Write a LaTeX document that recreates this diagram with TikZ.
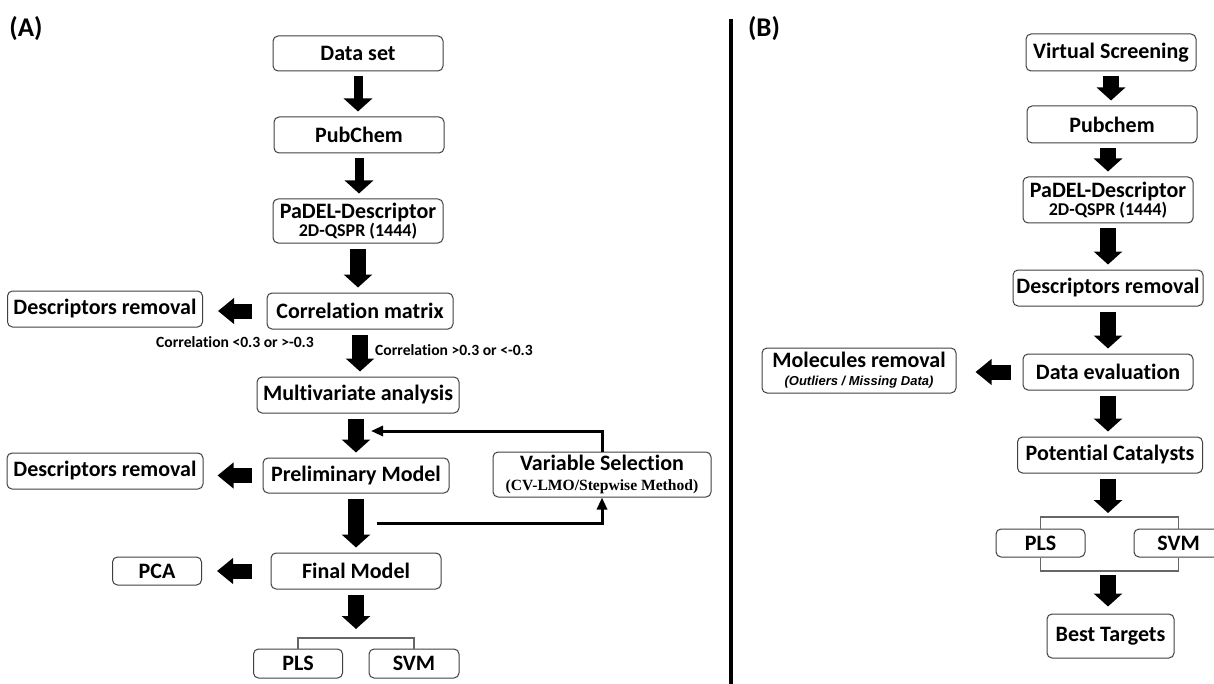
\documentclass[tikz,border=0pt]{standalone}
\usepackage{fontspec}
\setmainfont{Carlito}[Ligatures=NoCommon]
\newfontfamily\serifb{Liberation Serif}
\newfontfamily\sansb{Liberation Sans}
\usetikzlibrary{arrows.meta}

\begin{document}
\begin{tikzpicture}[x=0.5pt, y=-0.5pt, thick,
  box/.style={draw=black!75, line width=0.5pt, rounded corners=2.5pt, fill=white,
    inner sep=0pt, align=center, font=\fontsize{11}{12}\selectfont\bfseries},
  blk/.style={line width=8pt, -{Triangle[length=6.5pt, width=14pt]},
    shorten <=2.5pt, shorten >=2.5pt},
  sideblk/.style={line width=7.5pt, -{Triangle[length=8pt, width=12.5pt]}},
  fb/.style={line width=1.5pt, -{Triangle[length=6pt, width=5pt]}},
  brk/.style={draw=black!60, line width=0.6pt},
  cond/.style={font=\fontsize{7.8}{9}\selectfont\bfseries},
  panel/.style={font=\fontsize{13.5}{15}\selectfont\bfseries}]
  \useasboundingbox (0,0) rectangle (1214,684);
  \clip (0,0) rectangle (1214,684);

  % (A)
  \node[panel] (labA) at (26,29) {(A)};
  \node[box, minimum width=85pt, minimum height=17.5pt] (data) at (358,53.5) {Data set};
  \node[box, minimum width=85pt, minimum height=18pt] (pub) at (359,135) {PubChem};
  \node[box, minimum width=85pt, minimum height=22pt] (padel) at (358,221)
    {PaDEL-Descriptor\\[-3pt]{\fontsize{9}{9}\selectfont 2D-QSPR (1444)}};
  \node[box, minimum width=93pt, minimum height=18pt] (corr) at (360,311) {Correlation matrix};
  \node[box, minimum width=97.5pt, minimum height=18pt] (rem1) at (105,309) {Descriptors removal};
  \node[box, minimum width=101pt, minimum height=18pt] (multi) at (358,395) {Multivariate analysis};
  \node[box, minimum width=93pt, minimum height=17.5pt] (prelim) at (356,475.5) {Preliminary Model};
  \node[box, minimum width=98pt, minimum height=18pt] (rem2) at (105,471) {Descriptors removal};
  \node[box, minimum width=109pt, minimum height=22.5pt] (varsel) at (602,474.5)
    {Variable Selection\\[-2pt]{\serifb\bfseries\fontsize{7.8}{9}\selectfont (CV-LMO/Stepwise Method)}};
  \node[box, minimum width=85pt, minimum height=18pt] (final) at (356,571) {Final Model};
  \node[box, minimum width=44.5pt, minimum height=14pt] (pca) at (157,571) {PCA};
  \node[box, minimum width=44.5pt, minimum height=14.5pt] (plsA) at (298,663.5) {PLS};
  \node[box, minimum width=45pt, minimum height=14.5pt] (svmA) at (414,663.5) {SVM};

  \node[cond] (lowcorr) at (235,342) {Correlation <0.3 or >-0.3};
  \node[cond] (highcorr) at (454,350) {Correlation >0.3 or <-0.3};

  \coordinate (fbIn) at (371,431);
  \coordinate (fbOut) at (377,523);
  \coordinate (splitA) at (356,638);

  \draw[blk, line width=4.5pt] (data.south) -- (data.south |- pub.north);
  \draw[blk, line width=4.5pt] (pub.south) -- (pub.south |- padel.north);
  \draw[blk] (padel.south) -- (padel.south |- corr.north);
  \draw[blk] (corr.south) -- (corr.south |- multi.north);
  \draw[blk] (prelim.north |- multi.south) -- (prelim.north);
  \draw[blk, shorten <=2.5pt] (prelim.south) -- (prelim.south |- final.north);
  \draw[blk, shorten >=4.5pt] (final.south) -- (splitA);

  % side arrows
  \draw[sideblk, shorten <=7.5pt, shorten >=7.5pt] (corr.west) -- (corr.west -| rem1.east);
  \draw[sideblk, shorten <=5.5pt, shorten >=7pt] (prelim.west) -- (prelim.west -| rem2.east);
  \draw[sideblk, shorten <=9.5pt, shorten >=7.5pt] (final.west) -- (final.west -| pca.east);

  % loop through variable selection
  \draw[fb] (varsel.north) |- (fbIn);
  \draw[fb] (fbOut) -| (varsel.south);

  \draw[brk] (plsA.north) |- (splitA) -| (svmA.north);

  \draw[line width=2pt] (731,19) -- (731,684);

  % (B)
  \node[panel] (labB) at (764,29) {(B)};
  \node[box, minimum width=85pt, minimum height=18.5pt] (vs) at (1111,52.5) {Virtual Screening};
  \node[box, minimum width=85pt, minimum height=18.5pt] (pubB) at (1112,124.5) {Pubchem};
  \node[box, minimum width=85pt, minimum height=23pt] (padelB) at (1108,200)
    {PaDEL-Descriptor\\[-3pt]{\fontsize{9}{9}\selectfont 2D-QSPR (1444)}};
  \node[box, minimum width=95pt, minimum height=18pt] (remB) at (1108,288) {Descriptors removal};
  \node[box, minimum width=85pt, minimum height=18pt] (evalB) at (1108,372) {Data evaluation};
  \node[box, minimum width=97pt, minimum height=22.5pt] (molB) at (859,370.5)
    {Molecules removal\\[-3pt]{\sansb\bfseries\itshape\fontsize{6.5}{7}\selectfont (Outliers / Missing Data)}};
  \node[box, minimum width=92.5pt, minimum height=18pt] (potB) at (1110,455) {Potential Catalysts};
  \node[box, minimum width=44.5pt, minimum height=14pt] (plsB) at (1040.5,543) {PLS};
  \node[box, minimum width=44.5pt, minimum height=14pt] (svmB) at (1178.5,543) {SVM};
  \node[box, minimum width=63.5pt, minimum height=22pt] (bestB) at (1110.5,636) {Best Targets};

  \coordinate (splitB) at (1108,517);
  \coordinate (joinB) at (1108,571);

  \draw[blk] (vs.south) -- (vs.south |- pubB.north);
  \draw[blk] (padelB.north |- pubB.south) -- (padelB.north);
  \draw[blk] (padelB.south) -- (padelB.south |- remB.north);
  \draw[blk] (remB.south) -- (remB.south |- evalB.north);
  \draw[blk] (evalB.south) -- (evalB.south |- potB.north);
  \draw[blk, shorten >=2pt] (potB.south -| splitB) -- (splitB);
  \draw[blk, shorten <=2pt, shorten >=3.5pt] (joinB) -- (joinB |- bestB.north);

  \draw[sideblk, shorten <=6pt, shorten >=9.5pt] (evalB.west) -- (evalB.west -| molB.east);

  \draw[brk] (plsB.north) |- (splitB) -| (svmB.north);
  \draw[brk] (plsB.south) |- (joinB) -| (svmB.south);
\end{tikzpicture}
\end{document}
